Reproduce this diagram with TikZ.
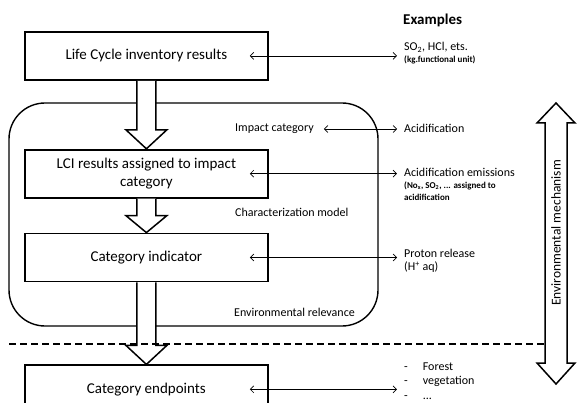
\documentclass[tikz,border=0pt]{standalone}
\usepackage{fontspec}
\setmainfont{Carlito}
\usetikzlibrary{arrows.meta, positioning, calc}

\begin{document}
\begin{tikzpicture}[
  x=1pt, y=-1pt,
  >={Straight Barb[length=3.5pt,width=7pt]},
  font=\fontsize{15}{18}\selectfont,
  box/.style={
    rectangle, draw, line width=1.8pt,
    align=center, inner sep=2pt,
    minimum width=243pt, minimum height=48pt
  },
  note/.style={inner sep=0pt, anchor=west, align=left,
    font=\fontsize{12}{14}\selectfont},
  notebold/.style={note, font=\fontsize{9}{11.5}\selectfont\bfseries},
  fat/.style={draw, line width=1.5pt, fill=white, line join=miter},
  link/.style={<->, line width=0.7pt, shorten >=7pt},
]
\clip (0,0) rectangle (577,403);

% --- impact assessment frame ---
\draw[line width=1.4pt, rounded corners=36pt] (9,103) rectangle (378,326);

% --- main chain ---
\node[box, anchor=north west] (LCI) at (24,31) {Life Cycle inventory results};
\node[box, below=68pt of LCI] (ASSIGN) {LCI results assigned to impact\\ category};
\node[box, below=34pt of ASSIGN] (IND) {Category indicator};
\node[box, below=82pt of IND] (END) {Category endpoints};

% --- labels inside the frame ---
\node[note] (impact) at (235,129) {Impact category};
\node[note] (charmod) at (235,212) {Characterization model};
\node[note] (envrel) at (234,312) {Environmental relevance};

% --- examples column ---
\node[note, font=\fontsize{15}{18}\selectfont\bfseries] (examples) at (403,20) {Examples};
\node[note] (so) at (404,47) {SO\textsubscript{2}, HCl, ets.};
\node[notebold] (unit) at (404,60) {(kg.functional unit)};
\node[note] (acid) at (404,128) {Acidification};
\node[note] (acidem) at (404,172) {Acidification emissions};
\node[notebold] (acidlist) at (404,191) {(No\textsubscript{x}, SO\textsubscript{2}, ... assigned to\\ acidification};
\node[note] (proton) at (404,253) {Proton release};
\node[note] (hplus) at (404,267) {(H\textsuperscript{+} aq)};
\node[note, font=\fontsize{12}{14.5}\selectfont] (ends) at (404,382)
  {\begin{tabular}{@{}l@{\hspace{15pt}}l@{}}- & Forest\\ - & vegetation\\ - & ...\end{tabular}};

% --- block arrows down the chain ---
\draw[fat] ($(LCI.south)+(-9.5pt,0)$) -- ($(ASSIGN.north)+(-9.5pt,19pt)$) -- ++(-11pt,0)
  -- (ASSIGN.north) -- ++(20.5pt,19pt) -- ++(-11pt,0) -- ($(LCI.south)+(9.5pt,0)$);
\draw[fat] ($(ASSIGN.south)+(-9.5pt,0)$) -- ($(IND.north)+(-9.5pt,17pt)$) -- ++(-11pt,0)
  -- (IND.north) -- ++(20.5pt,17pt) -- ++(-11pt,0) -- ($(ASSIGN.south)+(9.5pt,0)$);
\draw[fat] ($(IND.south)+(-9.5pt,0)$) -- ($(END.north)+(-9.5pt,19pt)$) -- ++(-11pt,0)
  -- (END.north) -- ++(20.5pt,19pt) -- ++(-11pt,0) -- ($(IND.south)+(9.5pt,0)$);

% --- midpoint / endpoint separator ---
\draw[line width=1.4pt, dash pattern=on 7pt off 4pt] (9,344) -- (545,344);

% --- environmental mechanism ---
\draw[fat] (545,123) -- (537,123) -- (556,103) -- (575,123) -- (567,123) -- (567,363)
  -- (575,363) -- (556,384) -- (537,363) -- (545,363) -- cycle;
\node[rotate=90, font=\fontsize{13.5}{16}\selectfont] (mech) at (556,233) {Environmental mechanism};

% --- links to examples ---
\draw[link] ($(LCI.east)+(-19pt,0)$) -- (so.west |- LCI.east);
\draw[link, shorten <=10pt] (impact.east) -- (acid.west |- impact.east);
\draw[link] ($(ASSIGN.east)+(-19pt,0)$) -- (acidem.west |- ASSIGN.east);
\draw[link] ($(IND.east)+(-19pt,0)$) -- (proton.west |- IND.east);
\draw[link] ($(END.east)+(-19pt,0)$) -- (ends.west |- END.east);

\end{tikzpicture}
\end{document}
